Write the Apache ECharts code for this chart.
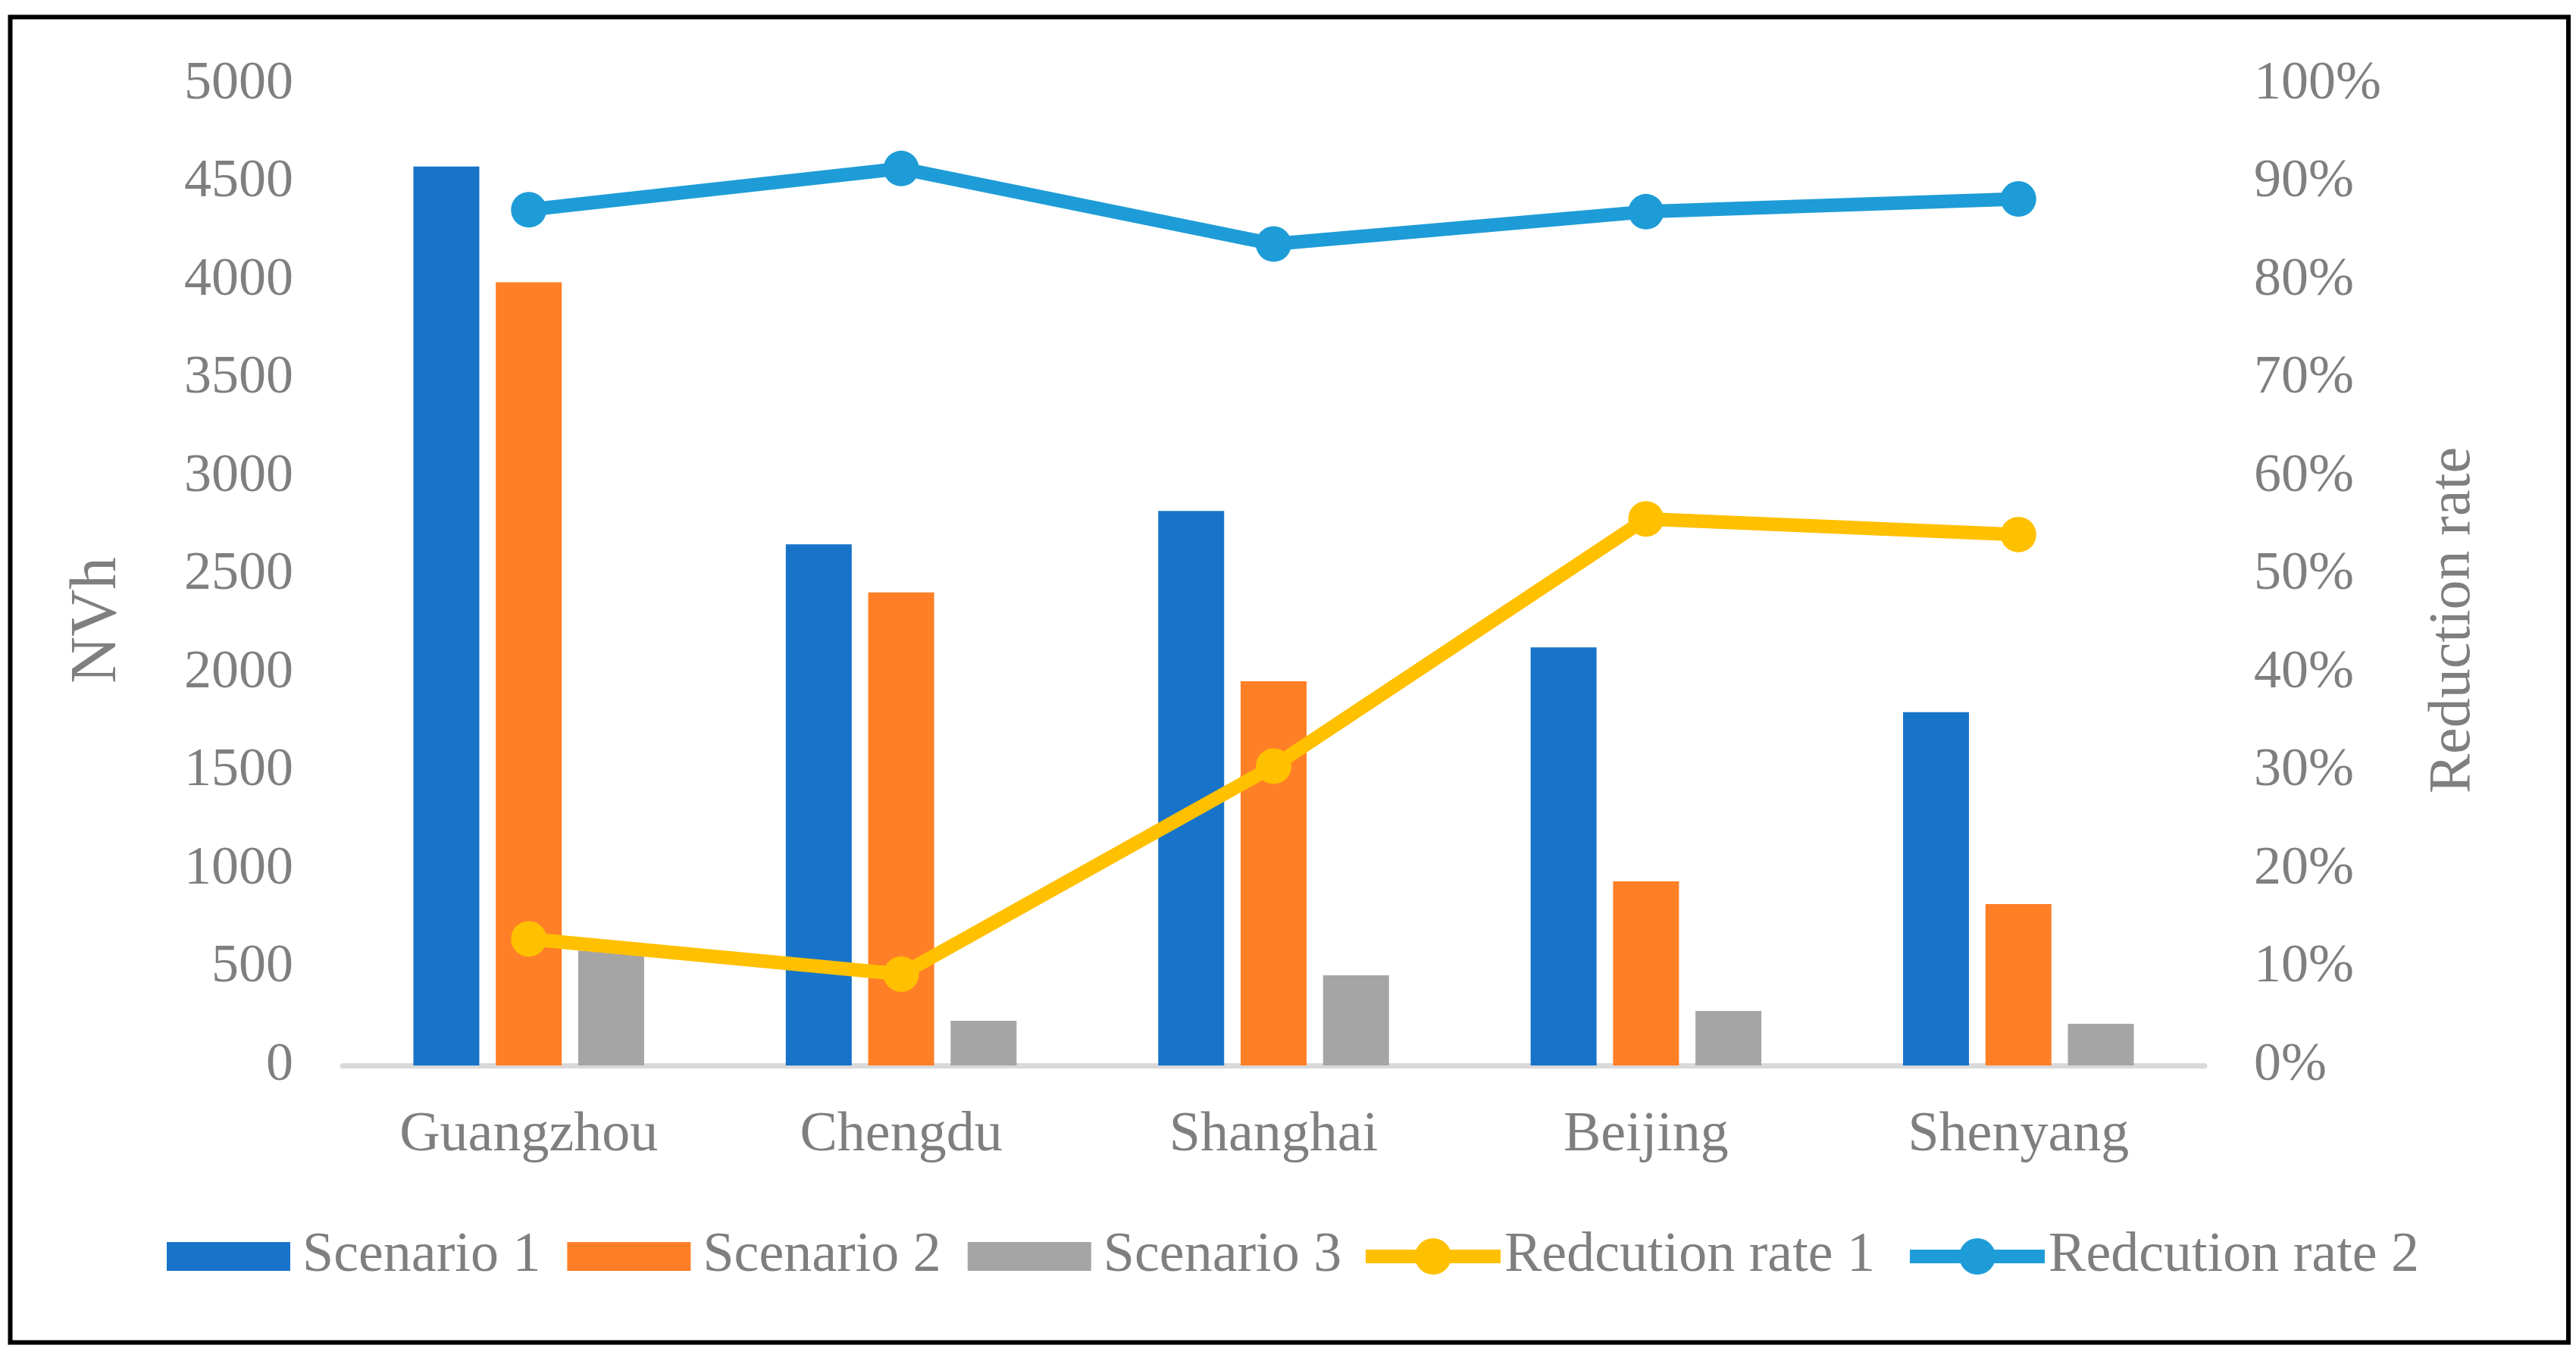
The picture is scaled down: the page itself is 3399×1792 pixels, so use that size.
<!DOCTYPE html>
<html>
<head>
<meta charset="utf-8">
<script src="https://cdn.jsdelivr.net/npm/echarts@6/dist/echarts.min.js"></script>
<style>
html,body{margin:0;padding:0;background:#fff;}
#c{width:3399px;height:1792px;}
</style>
</head>
<body>
<div id="c"></div>
<script>
const cities = ['Guangzhou', 'Chengdu', 'Shanghai', 'Beijing', 'Shenyang'];
const scenario1 = [4580, 2655, 2825, 2130, 1800];
const scenario2 = [3990, 2410, 1958, 938, 822];
const scenario3 = [585, 228, 459, 278, 212];
const reductionRate1 = [0.129, 0.093, 0.305, 0.557, 0.541];
const reductionRate2 = [0.872, 0.914, 0.837, 0.870, 0.883];
const leftTicks = { min: 0, max: 5000, interval: 500 };
const rightTicks = { min: 0, max: 1, interval: 0.1 };

const FONT = 'Liberation Serif';
const GRAY = '#7f7f7f';

const chart = echarts.init(document.getElementById('c'), null, { renderer: 'canvas' });
chart.setOption({
  backgroundColor: '#ffffff',
  animation: false,
  textStyle: { fontFamily: FONT },
  graphic: [{
    type: 'rect',
    shape: { x: 13.5, y: 22.5, width: 3375.5, height: 1749 },
    style: { fill: 'none', stroke: '#000', lineWidth: 6 },
    z: 100
  }],
  grid: { left: 452, right: 490, top: 111, bottom: 386, containLabel: false },
  legend: [{
    data: ['Scenario 1', 'Scenario 2', 'Scenario 3'],
    icon: 'rect',
    left: 220, top: 1621,
    itemWidth: 163, itemHeight: 38, itemGap: 35,
    padding: 0,
    textStyle: { fontFamily: FONT, fontSize: 74, color: GRAY, padding: [0, 0, 0, 11] }
  }, {
    data: ['Redcution rate 1', 'Redcution rate 2'],
    left: 1793, top: 1621,
    itemWidth: 178, itemHeight: 60, itemGap: 37,
    padding: 0,
    lineStyle: { width: 18 },
    textStyle: { fontFamily: FONT, fontSize: 74, color: GRAY }
  }],
  xAxis: {
    type: 'category',
    data: cities,
    axisLine: { lineStyle: { color: '#d9d9d9', width: 7 } },
    axisTick: { show: false },
    axisLabel: { fontFamily: FONT, fontSize: 74, color: GRAY, margin: 56 },
    splitLine: { show: false }
  },
  yAxis: [{
    type: 'value',
    min: leftTicks.min, max: leftTicks.max, interval: leftTicks.interval,
    name: 'NVh', nameLocation: 'middle', nameGap: 280,
    nameTextStyle: { fontFamily: FONT, fontSize: 86, color: GRAY, padding: [0, 120, 0, 0] },
    axisLine: { show: false }, axisTick: { show: false },
    splitLine: { show: false },
    axisLabel: { fontFamily: FONT, fontSize: 72, color: GRAY, margin: 65, formatter: v => String(v) }
  }, {
    type: 'value',
    min: rightTicks.min, max: rightTicks.max, interval: rightTicks.interval,
    name: 'Reduction rate', nameLocation: 'middle', nameGap: 290,
    nameTextStyle: { fontFamily: FONT, fontSize: 78, color: GRAY, padding: [0, 120, 0, 0] },
    axisLine: { show: false }, axisTick: { show: false },
    splitLine: { show: false },
    axisLabel: {
      fontFamily: FONT, fontSize: 72, color: GRAY, margin: 65,
      formatter: v => Math.round(v * 100) + '%'
    }
  }],
  series: [{
    name: 'Scenario 1', type: 'bar', data: scenario1,
    barWidth: 87, barGap: '25%',
    itemStyle: { color: '#1874c9' }
  }, {
    name: 'Scenario 2', type: 'bar', data: scenario2,
    barWidth: 87, barGap: '25%',
    itemStyle: { color: '#ff7f27' }
  }, {
    name: 'Scenario 3', type: 'bar', data: scenario3,
    barWidth: 87, barGap: '25%',
    itemStyle: { color: '#a5a5a5' }
  }, {
    name: 'Redcution rate 1', type: 'line', yAxisIndex: 1, data: reductionRate1,
    symbol: 'circle', symbolSize: 47,
    lineStyle: { color: '#ffc000', width: 18 },
    itemStyle: { color: '#ffc000' }
  }, {
    name: 'Redcution rate 2', type: 'line', yAxisIndex: 1, data: reductionRate2,
    symbol: 'circle', symbolSize: 47,
    lineStyle: { color: '#1e9cd7', width: 18 },
    itemStyle: { color: '#1e9cd7' }
  }]
});
</script>
</body>
</html>
